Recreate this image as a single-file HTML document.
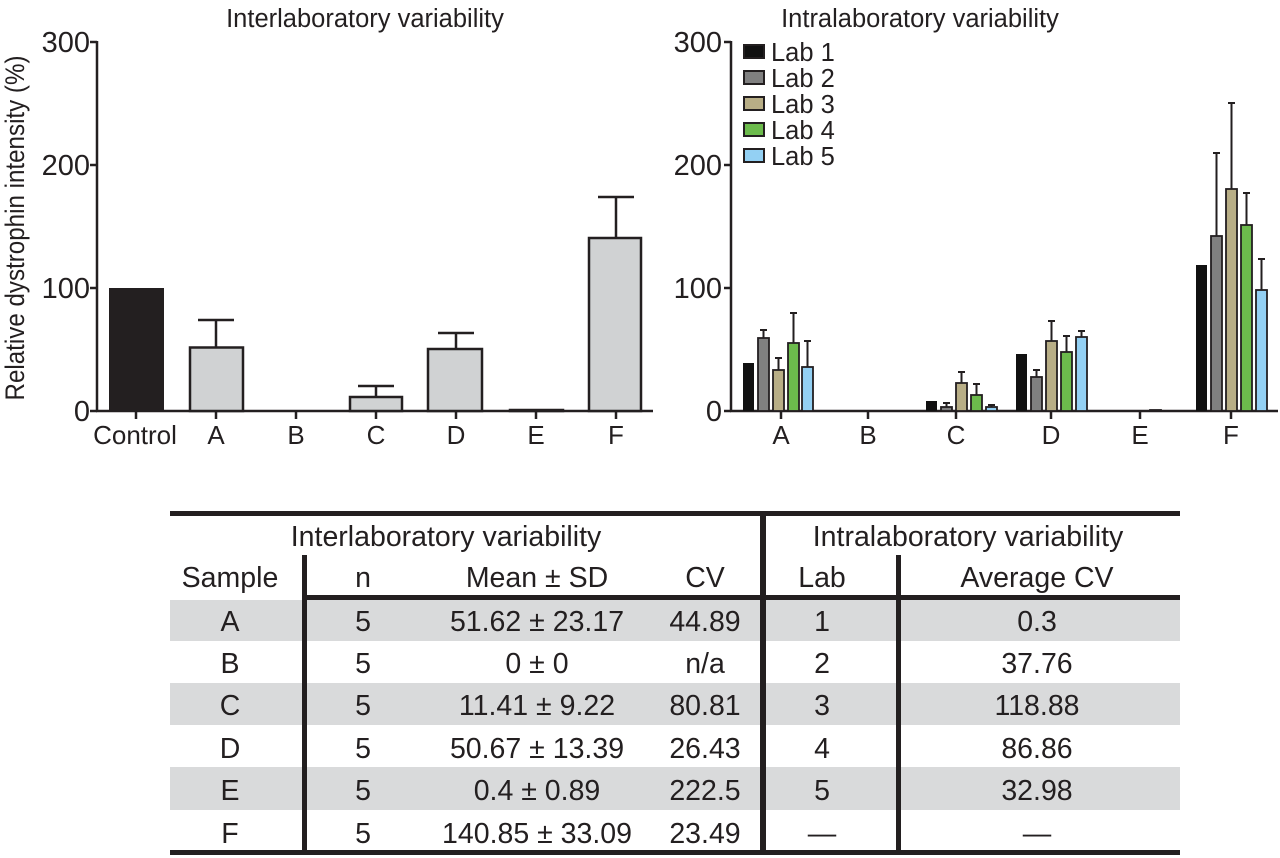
<!DOCTYPE html>
<html><head><meta charset="utf-8"><style>
body{margin:0;background:#fff}
svg{display:block;font-family:"Liberation Sans",Arial,sans-serif}
</style></head><body>
<svg width="1280" height="858" viewBox="0 0 1280 858" xmlns="http://www.w3.org/2000/svg">
<g fill="#231f20" font-size="22">
<text x="365" y="27" text-anchor="middle" font-size="25.5">Interlaboratory variability</text>
<text transform="translate(24,228) rotate(-90)" text-anchor="middle" font-size="27" textLength="345" lengthAdjust="spacingAndGlyphs">Relative dystrophin intensity (%)</text>
<g stroke="#231f20" stroke-width="2.5" fill="none">
<line x1="97" y1="41" x2="97" y2="412"/>
<line x1="96" y1="411" x2="653" y2="411"/>
<line x1="90" y1="42" x2="97" y2="42"/><line x1="90" y1="165" x2="97" y2="165"/><line x1="90" y1="288" x2="97" y2="288"/><line x1="90" y1="411" x2="97" y2="411"/>
<line x1="136" y1="411" x2="136" y2="419"/><line x1="216" y1="411" x2="216" y2="419"/><line x1="296" y1="411" x2="296" y2="419"/><line x1="376" y1="411" x2="376" y2="419"/><line x1="456" y1="411" x2="456" y2="419"/><line x1="536" y1="411" x2="536" y2="419"/><line x1="616" y1="411" x2="616" y2="419"/>
</g>
<g text-anchor="end" font-size="29"><text x="90" y="52">300</text><text x="90" y="175">200</text><text x="90" y="298">100</text><text x="90" y="421">0</text></g>
<g text-anchor="middle" font-size="26"><text x="135" y="444">Control</text><text x="216" y="444">A</text><text x="296" y="444">B</text><text x="376" y="444">C</text><text x="456" y="444">D</text><text x="536" y="444">E</text><text x="616" y="444">F</text></g>
<rect x="109" y="288" width="55" height="123" fill="#231f20"/>
<g fill="#d0d2d3" stroke="#231f20" stroke-width="2.5">
<rect x="190" y="347.5" width="53" height="63.5"/>
<rect x="350" y="397" width="52" height="14"/>
<rect x="428" y="349" width="54" height="62"/>
<rect x="510" y="410" width="53" height="1"/>
<rect x="589" y="238" width="52" height="173"/>
</g>
<g stroke="#231f20" stroke-width="2.5">
<line x1="216" y1="347" x2="216" y2="320"/><line x1="198" y1="320" x2="234" y2="320"/>
<line x1="376" y1="397" x2="376" y2="386"/><line x1="358" y1="386" x2="394" y2="386"/>
<line x1="456" y1="349" x2="456" y2="333"/><line x1="438" y1="333" x2="474" y2="333"/>
<line x1="616" y1="238" x2="616" y2="197"/><line x1="598" y1="197" x2="634" y2="197"/>
</g>

<text x="920" y="27" text-anchor="middle" font-size="25.5">Intralaboratory variability</text>
<g stroke="#231f20" stroke-width="2.5" fill="none">
<line x1="731" y1="41" x2="731" y2="412"/>
<line x1="730" y1="411" x2="1278" y2="411"/>
<line x1="724" y1="42" x2="731" y2="42"/><line x1="724" y1="165" x2="731" y2="165"/><line x1="724" y1="288" x2="731" y2="288"/><line x1="724" y1="411" x2="731" y2="411"/>
<line x1="781" y1="411" x2="781" y2="419"/><line x1="868" y1="411" x2="868" y2="419"/><line x1="956" y1="411" x2="956" y2="419"/><line x1="1051" y1="411" x2="1051" y2="419"/><line x1="1140" y1="411" x2="1140" y2="419"/><line x1="1231" y1="411" x2="1231" y2="419"/>
</g>
<g text-anchor="end" font-size="29"><text x="722" y="52">300</text><text x="722" y="175">200</text><text x="722" y="298">100</text><text x="722" y="421">0</text></g>
<g text-anchor="middle" font-size="26"><text x="781" y="444">A</text><text x="868" y="444">B</text><text x="956" y="444">C</text><text x="1051" y="444">D</text><text x="1140" y="444">E</text><text x="1231" y="444">F</text></g>
<g stroke="#231f20" stroke-width="2">
<rect x="744" y="45" width="20" height="13" fill="#111"/>
<rect x="744" y="71" width="20" height="13" fill="#808080"/>
<rect x="744" y="97" width="20" height="13" fill="#b8ae86"/>
<rect x="744" y="123" width="20" height="13" fill="#6cbb4c"/>
<rect x="744" y="149" width="20" height="13" fill="#93d0f3"/>
</g>
<g font-size="25.5"><text x="771" y="61">Lab 1</text><text x="771" y="87">Lab 2</text><text x="771" y="113">Lab 3</text><text x="771" y="139">Lab 4</text><text x="771" y="165">Lab 5</text></g>
<g stroke="#231f20" stroke-width="1.8">
<rect x="743" y="363" width="11" height="48" fill="#111" stroke="none"/>
<rect x="758" y="338" width="11" height="73" fill="#808080"/>
<rect x="773" y="370" width="11" height="41" fill="#b8ae86"/>
<rect x="788" y="343" width="11" height="68" fill="#6cbb4c"/>
<rect x="802" y="367" width="11" height="44" fill="#93d0f3"/>
<rect x="926" y="401" width="11" height="10" fill="#111" stroke="none"/>
<rect x="941" y="407" width="11" height="4" fill="#808080"/>
<rect x="956" y="383" width="11" height="28" fill="#b8ae86"/>
<rect x="971" y="395" width="11" height="16" fill="#6cbb4c"/>
<rect x="986" y="407" width="11" height="4" fill="#93d0f3"/>
<rect x="1016" y="354" width="11" height="57" fill="#111" stroke="none"/>
<rect x="1031" y="377" width="11" height="34" fill="#808080"/>
<rect x="1046" y="341" width="11" height="70" fill="#b8ae86"/>
<rect x="1061" y="352" width="11" height="59" fill="#6cbb4c"/>
<rect x="1076" y="337" width="11" height="74" fill="#93d0f3"/>
<rect x="1150" y="410" width="11" height="1" fill="#93d0f3"/>
<rect x="1196" y="265" width="11" height="146" fill="#111" stroke="none"/>
<rect x="1211" y="236" width="11" height="175" fill="#808080"/>
<rect x="1226" y="189" width="11" height="222" fill="#b8ae86"/>
<rect x="1241" y="225" width="11" height="186" fill="#6cbb4c"/>
<rect x="1256" y="290" width="11" height="121" fill="#93d0f3"/>
</g>
<g stroke="#231f20" stroke-width="2">
<path d="M763.5 338V330M760 330h7"/>
<path d="M778.5 370V358M775 358h7"/>
<path d="M793.5 343V313M790 313h7"/>
<path d="M807.5 367V341M804 341h7"/>
<path d="M946.5 407V403M943 403h7"/>
<path d="M961.5 383V372M958 372h7"/>
<path d="M976.5 395V384M973 384h7"/>
<path d="M991.5 407V405M988 405h7"/>
<path d="M1036.5 377V370M1033 370h7"/>
<path d="M1051.5 341V321M1048 321h7"/>
<path d="M1066.5 352V336M1063 336h7"/>
<path d="M1081.5 337V331M1078 331h7"/>
<path d="M1216.5 236V153M1213 153h7"/>
<path d="M1231.5 189V103M1228 103h7"/>
<path d="M1246.5 225V193M1243 193h7"/>
<path d="M1261.5 290V259M1258 259h7"/>
</g>

<g fill="#d9dadb">
<rect x="170" y="600" width="1010" height="41"/>
<rect x="170" y="683" width="1010" height="42"/>
<rect x="170" y="767" width="1010" height="43"/>
</g>
<g fill="#231f20">
<rect x="170" y="511" width="1010" height="5"/>
<rect x="170" y="850" width="1010" height="5"/>
<rect x="305" y="595" width="875" height="5"/>
<rect x="760" y="511" width="6" height="344"/>
<rect x="302" y="555" width="5" height="296"/>
<rect x="896" y="555" width="5" height="296"/>
</g>
<g text-anchor="middle" font-size="28.5">
<text x="446" y="546">Interlaboratory variability</text>
<text x="968" y="546">Intralaboratory variability</text>
<text x="230" y="587">Sample</text><text x="363" y="587">n</text><text x="537" y="587">Mean ± SD</text><text x="705" y="587">CV</text><text x="822" y="587">Lab</text><text x="1037" y="587">Average CV</text>
<text x="230" y="631">A</text><text x="363" y="631">5</text><text x="537" y="631">51.62 ± 23.17</text><text x="705" y="631">44.89</text><text x="822" y="631">1</text><text x="1037" y="631">0.3</text>
<text x="230" y="673">B</text><text x="363" y="673">5</text><text x="537" y="673">0 ± 0</text><text x="705" y="673">n/a</text><text x="822" y="673">2</text><text x="1037" y="673">37.76</text>
<text x="230" y="715">C</text><text x="363" y="715">5</text><text x="537" y="715">11.41 ± 9.22</text><text x="705" y="715">80.81</text><text x="822" y="715">3</text><text x="1037" y="715">118.88</text>
<text x="230" y="758">D</text><text x="363" y="758">5</text><text x="537" y="758">50.67 ± 13.39</text><text x="705" y="758">26.43</text><text x="822" y="758">4</text><text x="1037" y="758">86.86</text>
<text x="230" y="800">E</text><text x="363" y="800">5</text><text x="537" y="800">0.4 ± 0.89</text><text x="705" y="800">222.5</text><text x="822" y="800">5</text><text x="1037" y="800">32.98</text>
<text x="230" y="843">F</text><text x="363" y="843">5</text><text x="537" y="843">140.85 ± 33.09</text><text x="705" y="843">23.49</text><text x="822" y="843">—</text><text x="1037" y="843">—</text>
</g>
</g>
</svg>
</body></html>
